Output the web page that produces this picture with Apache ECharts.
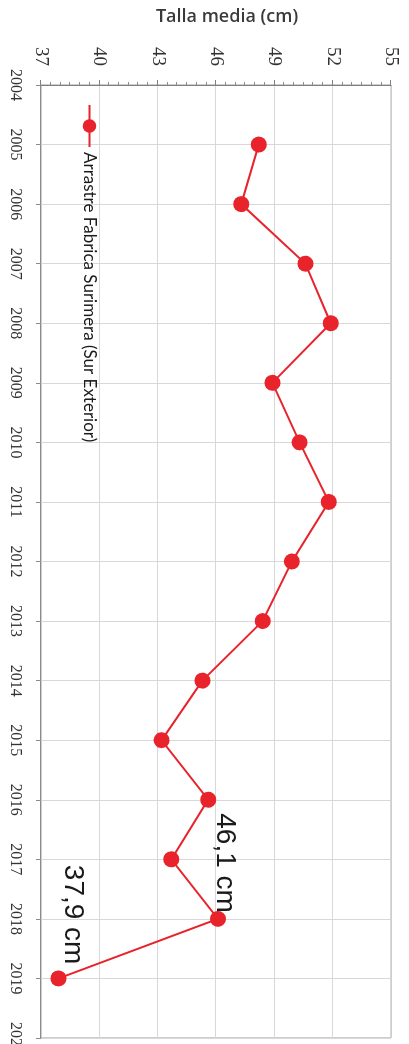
<!DOCTYPE html>
<html>
<head>
<meta charset="utf-8">
<script src="https://cdn.jsdelivr.net/npm/echarts@6/dist/echarts.min.js"></script>
<style>
  html, body { margin: 0; padding: 0; background: #fff; width: 409px; height: 1044px; overflow: hidden; }
  /* The chart is laid out landscape and turned a quarter turn clockwise */
  #chart {
    position: absolute; left: 0; top: 0;
    width: 1044px; height: 409px;
    transform-origin: 0 0;
    transform: translateX(409px) rotate(90deg);
  }
</style>
</head>
<body>
<div id="chart"></div>
<script>
// Years on the category axis (ends are empty so the line starts at 2005)
const years = ['2004','2005','2006','2007','2008','2009','2010','2011','2012',
               '2013','2014','2015','2016','2017','2018','2019','2020'];
// Mean length (cm) per year
const tallaMedia = [null, 48.2, 47.3, 50.6, 51.9, 48.9, 50.3, 51.8, 49.9,
                    48.4, 45.3, 43.2, 45.6, 43.7, 46.1, 37.9, null];
const seriesName = 'Arrastre Fabrica Surimera (Sur Exterior)';
const axisName = 'Talla media (cm)';
// Years whose value is written next to the point
const labeledYears = ['2018', '2019'];
const labelOffsets = { '2018': [2, -7], '2019': [-6, -14] };

const fmt = v => v.toFixed(1).replace('.', ',') + ' cm';

const seriesData = tallaMedia.map((v, i) => {
  const y = years[i];
  if (labeledYears.includes(y)) {
    return {
      value: v,
      label: {
        show: true, position: 'left', distance: 0, offset: labelOffsets[y],
        formatter: p => fmt(p.value),
        fontFamily: 'Liberation Sans', fontSize: 28, color: '#1a1a1a'
      }
    };
  }
  return v;
});

const chart = echarts.init(document.getElementById('chart'), null, { renderer: 'canvas' });
chart.setOption({
  animation: false,
  backgroundColor: '#fff',
  grid: {
    left: 85, right: 6, top: 18, bottom: 41,
    containLabel: false, outerBoundsMode: 'none',
    show: true, borderColor: '#9a9a9a', borderWidth: 1, backgroundColor: '#fff'
  },
  legend: {
    left: 104, top: 311, padding: 0,
    itemWidth: 42, itemHeight: 17, itemGap: 10,
    textStyle: { fontFamily: 'Lato', fontSize: 17, color: '#1a1a1a' },
    data: [seriesName]
  },
  xAxis: {
    type: 'category',
    data: years,
    boundaryGap: false,
    axisLine: { show: true, lineStyle: { color: '#8c8c8c', width: 1 } },
    axisTick: { show: true, length: 5, inside: false, lineStyle: { color: '#8c8c8c' } },
    axisLabel: {
      margin: 18, fontFamily: 'Liberation Serif', fontSize: 16, color: '#333',
      hideOverlap: false, showMinLabel: true, showMaxLabel: true, interval: 0
    },
    splitLine: { show: true, lineStyle: { color: '#d8d8d8', width: 1 } }
  },
  yAxis: {
    type: 'value',
    min: 37, max: 55, interval: 3,
    name: axisName,
    nameLocation: 'middle',
    nameRotate: 90,
    nameGap: 59,
    nameTextStyle: {
      fontFamily: 'Open Sans', fontWeight: 600, fontSize: 18, color: '#3a3a3a',
      padding: [0, 0, 0, 22]
    },
    axisLine: { show: true, lineStyle: { color: '#7f7f7f', width: 1 } },
    axisTick: { show: true, length: 5, lineStyle: { color: '#7f7f7f' } },
    minorTick: { show: true, splitNumber: 6, length: 3, lineStyle: { color: '#8c8c8c' } },
    axisLabel: { margin: 19, fontFamily: 'Liberation Serif', fontSize: 19, color: '#333' },
    splitLine: { show: true, lineStyle: { color: '#d8d8d8', width: 1 } }
  },
  series: [{
    name: seriesName,
    type: 'line',
    data: seriesData,
    connectNulls: false,
    symbol: 'circle',
    symbolSize: 16,
    showSymbol: true,
    color: '#e8232b',
    lineStyle: { color: '#e8232b', width: 2 },
    itemStyle: { color: '#e8232b' }
  }]
});
</script>
</body>
</html>
